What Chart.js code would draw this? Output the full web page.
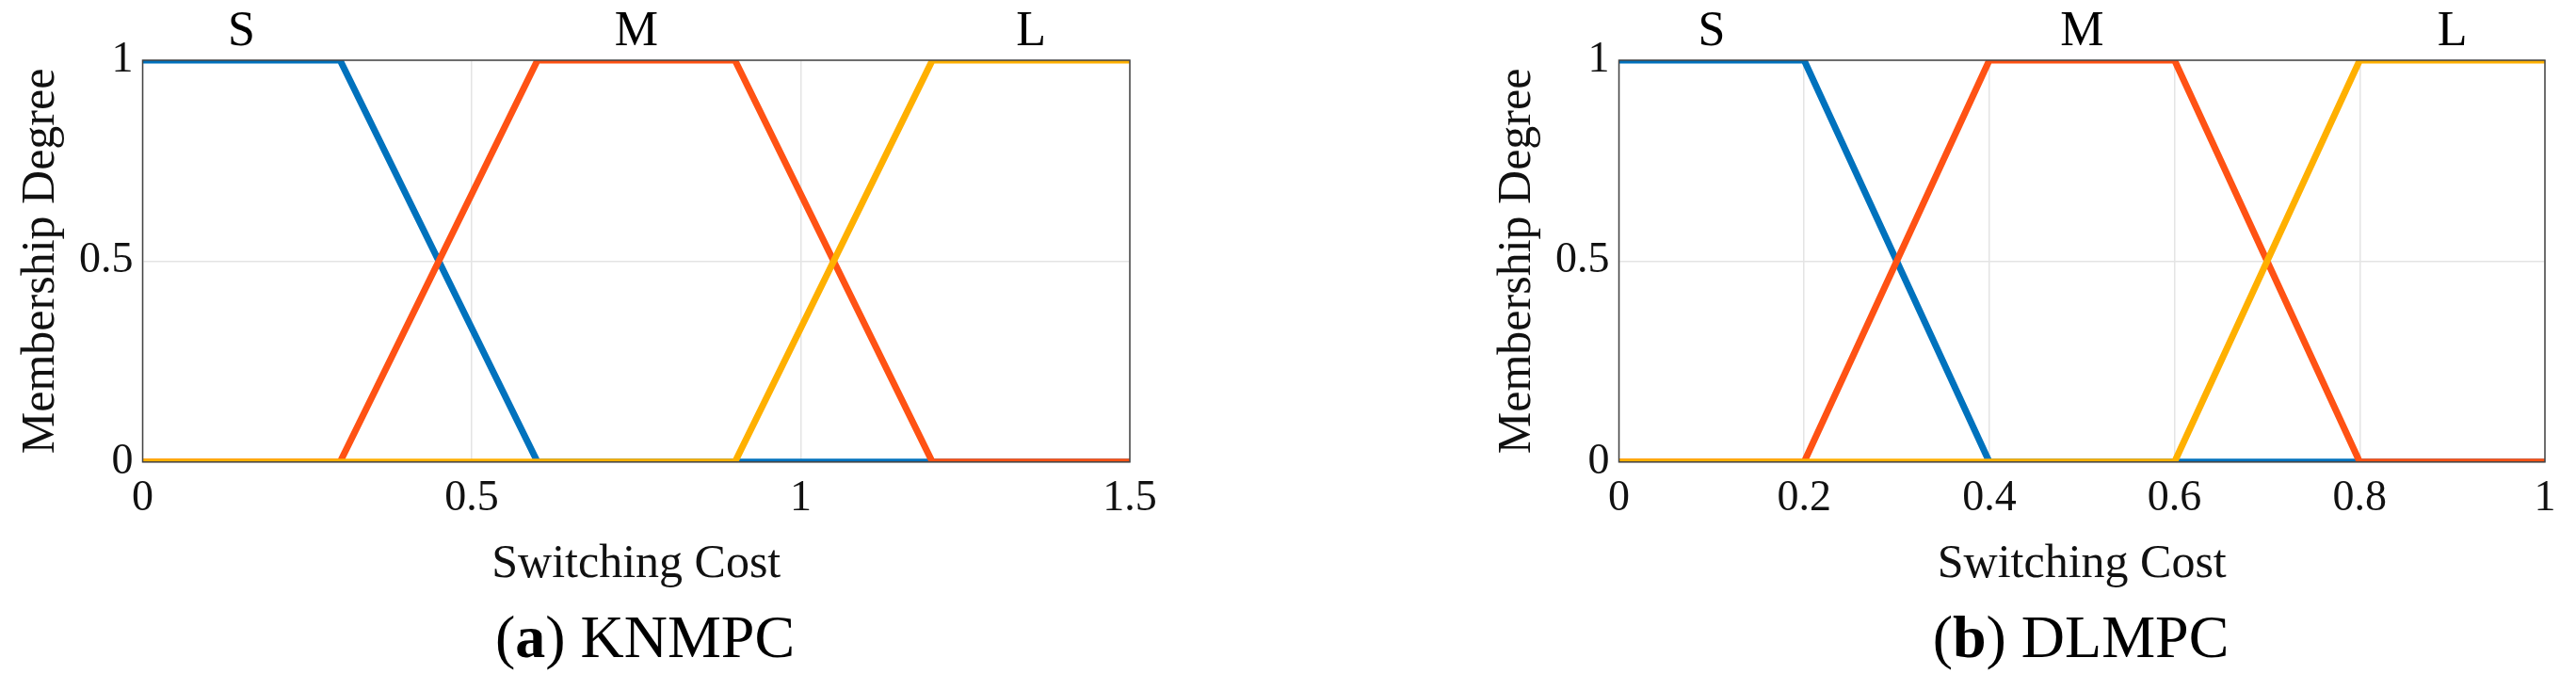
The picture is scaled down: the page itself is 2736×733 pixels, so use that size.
<!DOCTYPE html>
<html>
<head>
<meta charset="utf-8">
<script src="https://cdn.jsdelivr.net/npm/chart.js@4"></script>
<style>
body{margin:0;background:#fff;width:2736px;height:733px;position:relative;overflow:hidden;font-family:"Liberation Serif",serif}
.box{position:absolute;top:0;height:630px}
.cap{position:absolute;top:640px;font-size:64px;text-align:center}
</style>
</head>
<body>
<div class="box" style="left:0;width:1300px"><canvas id="g1"></canvas></div>
<div class="box" style="left:1568px;width:1190px"><canvas id="g2"></canvas></div>
<div class="cap" style="left:160px;width:1050px">(<b>a</b>) KNMPC</div>
<div class="cap" style="left:1715px;width:990px">(<b>b</b>) DLMPC</div>
<script>
// funciones de pertenencia (x, grado)
const knS = [[0,1],[0.3,1],[0.6,0],[1.5,0]];
const knM = [[0,0],[0.3,0],[0.6,1],[0.9,1],[1.2,0],[1.5,0]];
const knL = [[0,0],[0.9,0],[1.2,1],[1.5,1]];
const knTicks = [0,0.5,1,1.5];
const dlS = [[0,1],[0.2,1],[0.4,0],[1,0]];
const dlM = [[0,0],[0.2,0],[0.4,1],[0.6,1],[0.8,0],[1,0]];
const dlL = [[0,0],[0.6,0],[0.8,1],[1,1]];
const dlTicks = [0,0.2,0.4,0.6,0.8,1];
const yTicks = [0,0.5,1];
const names = ["S","M","L"];
const colores = ["#0072BD","#FF5214","#FFB000"];
const FAM = "'Liberation Serif', 'Times New Roman', serif";

const serie = (pts,i)=>({data:pts.map(p=>({x:p[0],y:p[1]})),showLine:true,borderColor:colores[i],borderWidth:7,pointRadius:0,fill:false,order:3-i});

const marco = {
  id:"marco",
  afterDraw(c){
    const a=c.chartArea, ctx=c.ctx, x=c.scales.x;
    ctx.save();
    ctx.strokeStyle="#444";ctx.lineWidth=1.5;
    ctx.strokeRect(a.left,a.top,a.right-a.left,a.bottom-a.top);
    ctx.fillStyle="#000";ctx.font="52px "+FAM;ctx.textAlign="center";ctx.textBaseline="bottom";
    const pos=c.options.plugins.marco.pos;
    names.forEach((n,i)=>ctx.fillText(n,x.getPixelForValue(pos[i]),a.top-4));
    ctx.restore();
  }
};

function grafico(id,S,M,L,ticks,max,pos,right){
  new Chart(document.getElementById(id),{
    type:"scatter",
    data:{datasets:[serie(S,0),serie(M,1),serie(L,2)]},
    plugins:[marco],
    options:{
      responsive:true,maintainAspectRatio:false,animation:false,
      layout:{padding:{top:64,right:right,left:10}},
      plugins:{legend:{display:false},tooltip:{enabled:false},marco:{pos:pos}},
      scales:{
        x:{type:"linear",min:0,max:max,
          afterBuildTicks:s=>{s.ticks=ticks.map(v=>({value:v}));},
          grid:{color:"#e4e4e4",lineWidth:1.5,drawTicks:false},border:{display:false},
          ticks:{color:"#111",font:{family:FAM,size:46},padding:12,maxRotation:0,callback:v=>String(v)},
          title:{display:true,text:"Switching Cost",color:"#111",font:{family:FAM,size:50},padding:{top:0,bottom:0}}},
        y:{min:0,max:1,
          afterBuildTicks:s=>{s.ticks=yTicks.map(v=>({value:v}));},
          grid:{color:"#e4e4e4",lineWidth:1.5,drawTicks:false},border:{display:false},
          ticks:{color:"#111",font:{family:FAM,size:46},padding:10,callback:v=>String(v)},
          title:{display:true,text:"Membership Degree",color:"#111",font:{family:FAM,size:50},padding:{bottom:0}}}
      }
    }
  });
}
grafico("g1",knS,knM,knL,knTicks,1.5,[0.15,0.75,1.35],100);
grafico("g2",dlS,dlM,dlL,dlTicks,1,[0.1,0.5,0.9],55);
</script>
</body>
</html>
